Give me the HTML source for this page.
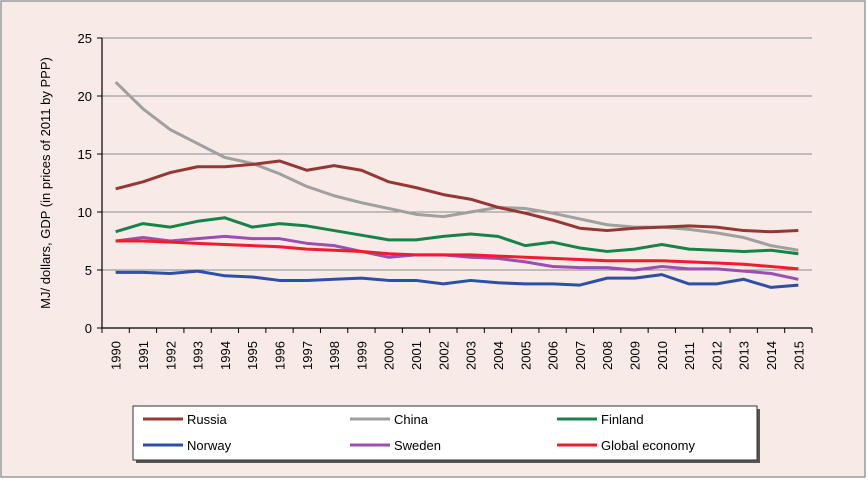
<!DOCTYPE html>
<html><head><meta charset="utf-8"><style>
body{margin:0;background:#fff;}
svg{display:block;font-family:"Liberation Sans",sans-serif;}
</style></head><body>
<svg width="868" height="480">
<rect x="1" y="1" width="864" height="476" fill="#f8ebe7" stroke="#9a9a9a" stroke-width="1.5"/>
<g id="grid"></g><g id="axes"></g><g id="series"></g>
<text transform="translate(50,183) rotate(-90)" text-anchor="middle" font-size="13" fill="#000">MJ/ dollars,  GDP (in prices of 2011 by PPP)</text>
<rect x="136" y="409" width="624" height="54" fill="#555"/>
<rect x="133" y="406" width="624" height="54" fill="#fff" stroke="#333" stroke-width="1"/>
<g id="legend"></g>
</svg>
<script>
const years=[1990,1991,1992,1993,1994,1995,1996,1997,1998,1999,2000,2001,2002,2003,2004,2005,2006,2007,2008,2009,2010,2011,2012,2013,2014,2015];
const yTicks=[0,5,10,15,20,25];
const russia=[12.0,12.6,13.4,13.9,13.9,14.1,14.4,13.6,14.0,13.6,12.6,12.1,11.5,11.1,10.4,9.9,9.3,8.6,8.4,8.6,8.7,8.8,8.7,8.4,8.3,8.4];
const china=[21.2,18.9,17.1,15.9,14.7,14.2,13.3,12.2,11.4,10.8,10.3,9.8,9.6,10.0,10.4,10.3,9.9,9.4,8.9,8.7,8.7,8.5,8.2,7.8,7.1,6.7];
const finland=[8.3,9.0,8.7,9.2,9.5,8.7,9.0,8.8,8.4,8.0,7.6,7.6,7.9,8.1,7.9,7.1,7.4,6.9,6.6,6.8,7.2,6.8,6.7,6.6,6.7,6.4];
const norway=[4.8,4.8,4.7,4.9,4.5,4.4,4.1,4.1,4.2,4.3,4.1,4.1,3.8,4.1,3.9,3.8,3.8,3.7,4.3,4.3,4.6,3.8,3.8,4.2,3.5,3.7];
const sweden=[7.5,7.8,7.5,7.7,7.9,7.7,7.7,7.3,7.1,6.6,6.1,6.3,6.3,6.1,6.0,5.7,5.3,5.2,5.2,5.0,5.3,5.1,5.1,4.9,4.7,4.2];
const globalEco=[7.5,7.5,7.4,7.3,7.2,7.1,7.0,6.8,6.7,6.6,6.4,6.3,6.3,6.3,6.2,6.1,6.0,5.9,5.8,5.8,5.8,5.7,5.6,5.5,5.3,5.1];
const seriesNames=["Russia","China","Finland","Norway","Sweden","Global economy"];
const NS="http://www.w3.org/2000/svg";
const L=102,R=812,T=38,B=328,ymax=25;
const bw=(R-L)/years.length;
const xs=i=>L+bw*(i+0.5);
const ys=v=>B-(v/ymax)*(B-T);
function mk(tag,attrs,parent){const e=document.createElementNS(NS,tag);for(const k in attrs)e.setAttribute(k,attrs[k]);parent.appendChild(e);return e;}
const grid=document.getElementById('grid'),axes=document.getElementById('axes'),ser=document.getElementById('series'),leg=document.getElementById('legend');
yTicks.forEach(t=>{
 if(t>0){const g=mk('line',{x1:L,x2:R,y1:ys(t),y2:ys(t),stroke:'#888','stroke-width':1},grid);
 
 }
 const tk=mk('line',{x1:L-5,x2:L,y1:ys(t),y2:ys(t),stroke:'#000'},axes);
 
 
 const tx=mk('text',{x:L-10,y:ys(t)+5,'text-anchor':'end','font-size':13},axes);tx.textContent=t;
 
 
});
const ya=mk('line',{x1:L,x2:L,y1:T,y2:B,stroke:'#000','stroke-width':1.2},axes);


const xa=mk('line',{x1:L,x2:R,y1:B,y2:B,stroke:'#000','stroke-width':1.2},axes);


for(let i=0;i<=years.length;i++){const tk=mk('line',{x1:L+bw*i,x2:L+bw*i,y1:B,y2:B+5,stroke:'#000'},axes);
 
 }
years.forEach((y,i)=>{const tx=mk('text',{transform:`translate(${xs(i)+5},${B+42}) rotate(-90)`,'font-size':13},axes);tx.textContent=y;
 
 });
const data=[russia,china,finland,norway,sweden,globalEco];
const colors=['#953735','#a0a0a0','#17834a','#2f4fa5','#9b4fae','#ee1c2e'];
const order=[1,0,2,4,5,3];
order.forEach(k=>{const p=mk('polyline',{points:data[k].map((v,i)=>xs(i)+','+ys(v)).join(' '),fill:'none',stroke:colors[k],'stroke-width':3,'stroke-linejoin':'round'},ser);
 
 });
const lx=[143,350,557],ly=[419,445];
seriesNames.forEach((n,k)=>{const x=lx[k%3],y=ly[Math.floor(k/3)];
 const g=mk('g',{},leg);
 
 
 mk('line',{x1:x,x2:x+40,y1:y,y2:y,stroke:colors[k],'stroke-width':3},g);
 const t=mk('text',{x:x+44,y:y+5,'font-size':13},g);t.textContent=n;});
</script>
</body></html>
